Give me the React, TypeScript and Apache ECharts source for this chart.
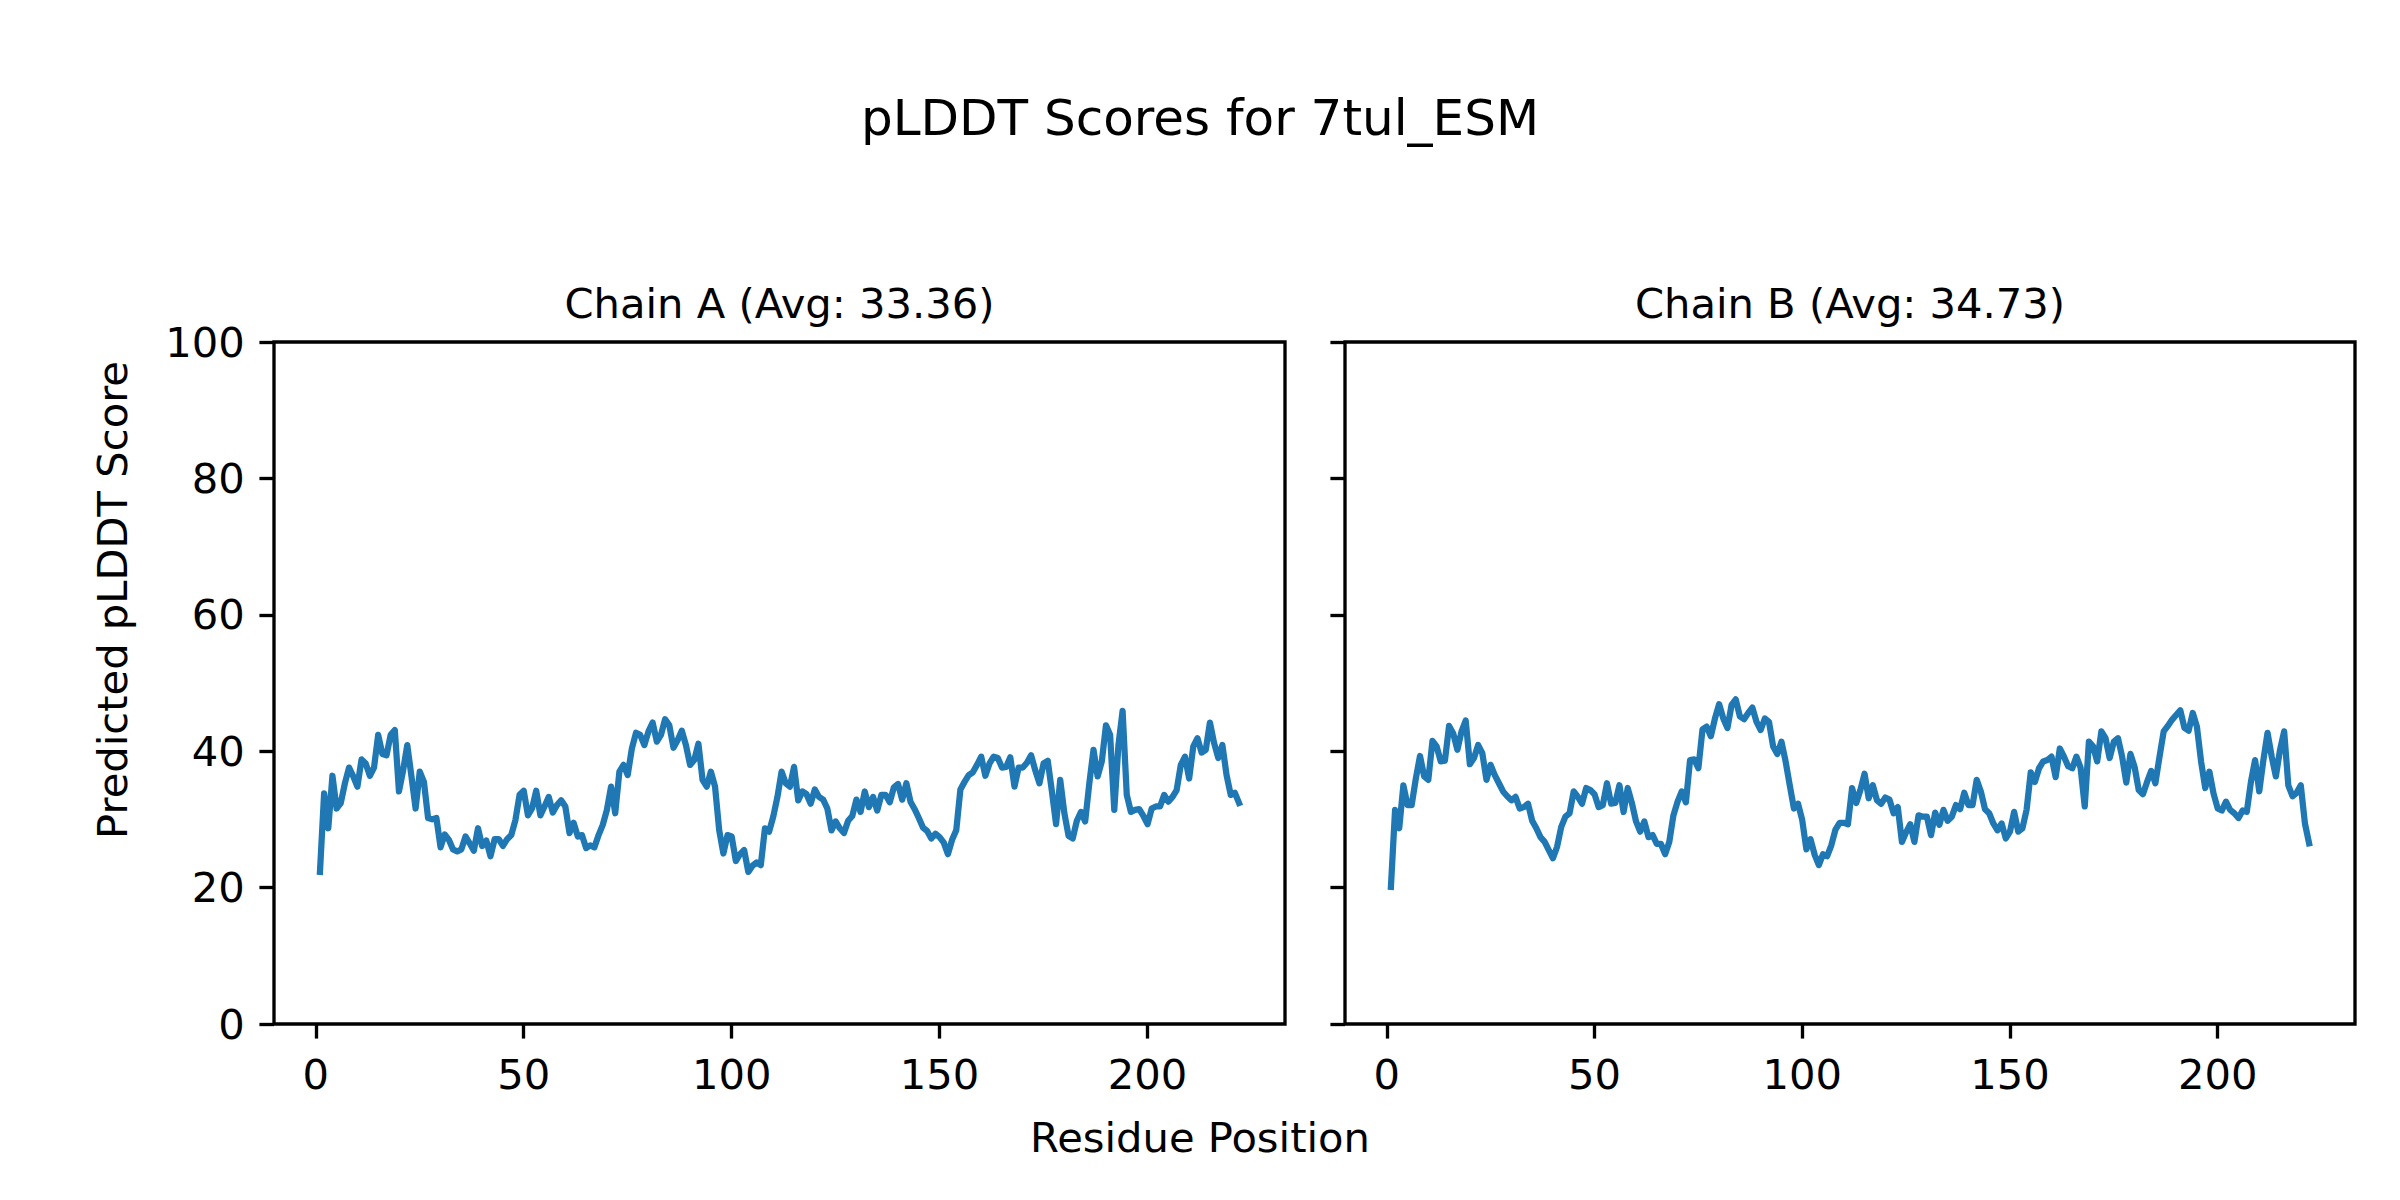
import React, { useEffect, useRef } from "react";
import * as echarts from "echarts";

const chainA: number[] = [
  22.3, 33.8, 28.7, 36.4, 31.6, 32.4, 35.3, 37.6, 36.3, 34.8,
  38.8, 38.2, 36.4, 37.6, 42.4, 39.6, 39.4, 42.4, 43.1, 34.1,
  37.2, 40.9, 36.3, 31.6, 37.0, 35.5, 30.2, 30.0, 30.2, 25.9,
  27.8, 27.0, 25.6, 25.3, 25.6, 27.5, 26.5, 25.4, 28.7, 26.1,
  26.9, 24.6, 27.1, 27.1, 26.1, 27.1, 27.7, 29.9, 33.6, 34.2,
  30.6, 31.6, 34.2, 30.6, 31.9, 33.3, 31.0, 32.1, 32.8, 31.9,
  28.0, 29.5, 27.5, 27.7, 25.8, 26.2, 25.9, 27.7, 29.2, 31.4,
  34.8, 30.9, 37.0, 38.0, 36.5, 40.4, 42.7, 42.4, 40.9, 42.9,
  44.2, 41.4, 42.4, 44.7, 43.8, 40.5, 41.6, 43.0, 40.9, 38.0,
  38.7, 41.1, 35.8, 34.8, 37.0, 34.8, 28.4, 25.0, 27.7, 27.5,
  23.9, 24.9, 25.5, 22.3, 23.2, 23.7, 23.3, 28.7, 28.2, 30.4,
  33.3, 37.0, 35.3, 34.8, 37.7, 32.8, 34.1, 33.7, 32.3, 34.4,
  33.3, 32.9, 31.6, 28.4, 29.7, 28.7, 28.0, 29.8, 30.5, 32.9,
  31.1, 34.1, 31.8, 33.3, 31.3, 33.6, 33.6, 32.5, 34.7, 35.2,
  32.9, 35.3, 32.6, 31.5, 30.2, 28.8, 28.3, 27.2, 27.9, 27.4,
  26.6, 24.9, 27.0, 28.4, 34.4, 35.5, 36.5, 36.9, 38.0, 39.2,
  36.4, 38.2, 39.2, 39.0, 37.6, 37.7, 39.1, 34.8, 37.6, 37.6,
  38.3, 39.4, 37.2, 35.3, 38.2, 38.6, 34.1, 29.3, 35.8, 30.9,
  27.6, 27.2, 29.8, 31.1, 29.7, 35.3, 40.2, 36.3, 38.5, 43.8,
  42.4, 31.4, 40.9, 45.9, 33.6, 31.1, 31.4, 31.5, 30.5, 29.3,
  31.6, 31.9, 31.9, 33.6, 32.6, 33.3, 34.3, 38.0, 39.2, 36.0,
  40.7, 41.9, 39.8, 40.2, 44.2, 41.2, 39.0, 40.9, 36.5, 33.6,
  33.9, 32.4,
];

const chainB: number[] = [
  20.1, 31.4, 28.7, 35.0, 32.1, 32.1, 36.0, 39.3, 36.3, 35.8,
  41.5, 40.7, 38.5, 38.6, 43.7, 42.6, 40.2, 42.9, 44.5, 38.1,
  39.0, 40.9, 39.7, 35.8, 38.0, 36.5, 35.3, 34.1, 33.4, 32.8,
  33.3, 31.6, 31.8, 32.3, 29.8, 28.7, 27.4, 26.7, 25.5, 24.3,
  26.0, 28.9, 30.4, 30.9, 34.1, 33.3, 32.3, 34.6, 34.3, 33.7,
  31.8, 32.1, 35.3, 32.3, 32.4, 35.0, 31.1, 34.6, 32.4, 29.7,
  28.2, 29.7, 27.4, 27.7, 26.4, 26.4, 24.9, 26.7, 30.6, 32.6,
  34.1, 32.5, 38.7, 38.8, 37.5, 43.2, 43.6, 42.2, 44.8, 46.9,
  44.8, 43.4, 46.8, 47.6, 45.1, 44.7, 45.6, 46.4, 44.3, 43.1,
  44.8, 44.3, 40.7, 39.6, 41.4, 38.5, 35.0, 31.6, 32.3, 29.9,
  25.6, 27.1, 24.8, 23.3, 24.9, 24.6, 26.2, 28.5, 29.5, 29.5,
  29.3, 34.6, 32.4, 34.3, 36.7, 33.1, 35.0, 32.8, 32.3, 33.2,
  32.9, 30.9, 31.8, 26.7, 28.1, 29.3, 26.7, 30.6, 30.4, 30.4,
  27.7, 31.0, 29.2, 31.4, 29.8, 30.4, 32.1, 31.5, 33.9, 32.1,
  32.1, 35.8, 34.1, 31.5, 30.9, 29.4, 28.4, 29.4, 27.2, 28.2,
  31.1, 28.2, 28.7, 31.4, 36.9, 35.5, 37.5, 38.5, 38.7, 39.2,
  36.2, 40.4, 39.2, 37.8, 37.5, 39.2, 37.6, 31.9, 41.4, 40.7,
  38.5, 42.9, 41.9, 39.0, 41.4, 41.9, 39.2, 35.4, 39.6, 37.7,
  34.3, 33.7, 35.5, 37.1, 35.3, 39.2, 42.9, 43.7, 44.6, 45.3,
  46.0, 43.4, 43.0, 45.6, 43.6, 38.5, 34.6, 37.0, 33.8, 31.6,
  31.3, 32.6, 31.4, 30.9, 30.2, 31.3, 31.1, 35.5, 38.7, 34.1,
  38.7, 42.7, 39.2, 36.3, 40.2, 42.9, 35.0, 33.4, 33.9, 35.0,
  29.4, 26.5,
];

const residues: number[] = chainA.map((_, i) => i + 1);

const xTicks: number[] = [0, 50, 100, 150, 200];
const suptitle = "pLDDT Scores for 7tul_ESM";
const titleA = "Chain A (Avg: 33.36)";
const titleB = "Chain B (Avg: 34.73)";
const xLabel = "Residue Position";
const yLabel = "Predicted pLDDT Score";

const FONT = "DejaVu Sans";
const PT = 300 / 72;

export default function App() {
  const ref = useRef<HTMLDivElement>(null);

  useEffect(() => {
    if (!ref.current) return;
    const chart = echarts.init(ref.current, null, { renderer: "svg" });

    const grids = [
      { left: 274, top: 342, width: 1011, height: 682 },
      { left: 1345, top: 342, width: 1010, height: 682 },
    ].map((g) => ({
      ...g,
      show: true,
      borderColor: "#000",
      borderWidth: 0.8 * PT,
      backgroundColor: "transparent",
    }));

    const xMin = 1 - 0.05 * (residues.length - 1);
    const xMax = residues.length + 0.05 * (residues.length - 1);

    const tickStyle = { show: true, length: 3.5 * PT, lineStyle: { color: "#000", width: 0.8 * PT } };

    const xAxes = [0, 1].map((i) => ({
      type: "value",
      gridIndex: i,
      position: "bottom",
      min: xMin,
      max: xMax,
      axisLine: { show: false, onZero: false },
      splitLine: { show: false },
      axisTick: { ...tickStyle, customValues: xTicks },
      axisLabel: {
        show: true,
        customValues: xTicks,
        margin: 7 * PT,
        fontSize: 10 * PT,
        fontFamily: FONT,
        color: "#000",
      },
    }));

    const yAxes = [0, 1].map((i) => ({
      type: "value",
      gridIndex: i,
      position: "left",
      min: 0,
      max: 100,
      interval: 20,
      axisLine: { show: false, onZero: false },
      splitLine: { show: false },
      axisTick: tickStyle,
      axisLabel: {
        show: i === 0,
        margin: 7 * PT,
        fontSize: 10 * PT,
        fontFamily: FONT,
        color: "#000",
      },
    }));

    const mk = (vals: number[], idx: number) => ({
      type: "line",
      xAxisIndex: idx,
      yAxisIndex: idx,
      data: residues.map((r, i) => [r, vals[i]]),
      showSymbol: false,
      symbol: "none",
      lineStyle: { color: "#1f77b4", width: 1.5 * PT, cap: "square", join: "round" },
      z: 3,
    });

    const txt = (text: string, x: number, y: number, size: number, rotation = 0) => ({
      type: "text",
      x,
      y,
      rotation,
      style: {
        text,
        fontSize: size,
        fontFamily: FONT,
        fill: "#000",
        align: "center",
        verticalAlign: "middle",
      },
    });

    chart.setOption({
      animation: false,
      backgroundColor: "#fff",
      grid: grids,
      xAxis: xAxes,
      yAxis: yAxes,
      series: [mk(chainA, 0), mk(chainB, 1)],
      graphic: [
        txt(suptitle, 1200, 118, 12 * PT),
        txt(titleA, 779.5, 303, 10 * PT),
        txt(titleB, 1850, 303, 10 * PT),
        txt(xLabel, 1200, 1137, 10 * PT),
        txt(yLabel, 112, 600, 10 * PT, Math.PI / 2),
      ],
    });

    return () => chart.dispose();
  }, []);

  return (
    <div
      ref={ref}
      style={{ position: "absolute", left: 0, top: 0, width: 2400, height: 1200, background: "#fff" }}
    />
  );
}
